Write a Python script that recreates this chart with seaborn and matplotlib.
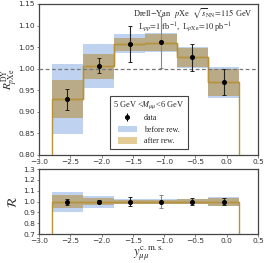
import numpy as np
import pandas as pd
import seaborn as sns
import matplotlib
matplotlib.use("Agg")
import matplotlib.pyplot as plt
from matplotlib.patches import Patch

# ---------------- data ----------------
bin_edges = [-2.8, -2.3, -1.8, -1.3, -0.8, -0.3, 0.2]
y_centers = [-2.55, -2.05, -1.55, -1.05, -0.55, -0.05]

data_R = [0.929, 1.007, 1.058, 1.061, 1.026, 0.970]
data_err = [0.024, 0.017, 0.042, 0.060, 0.032, 0.030]

before_lo = [0.848, 0.956, 1.036, 1.038, 1.002, 0.932]
before_hi = [1.010, 1.057, 1.080, 1.082, 1.050, 1.004]

after_lo = [0.885, 0.977, 1.040, 1.041, 1.004, 0.937]
after_hi = [0.973, 1.035, 1.072, 1.080, 1.047, 1.000]
after_central = [0.929, 1.007, 1.058, 1.060, 1.026, 0.970]

ratio_err = [0.028, 0.017, 0.040, 0.057, 0.031, 0.031]
ratio_before_half = [0.092, 0.055, 0.024, 0.022, 0.024, 0.040]
ratio_after_half = [0.058, 0.035, 0.019, 0.019, 0.021, 0.037]
ratio_central = [1.0, 1.0, 1.0, 1.0, 1.0, 1.0]

x_ticks = [-3.0, -2.5, -2.0, -1.5, -1.0, -0.5, 0.0, 0.5]
top_y_ticks = [0.80, 0.85, 0.90, 0.95, 1.00, 1.05, 1.10, 1.15]
bot_y_ticks = [0.7, 0.8, 0.9, 1.0, 1.1, 1.2, 1.3]

# ---------------- style ----------------
sns.set_theme(style="ticks")
plt.rcParams["font.family"] = ["DejaVu Sans"]
plt.rcParams["mathtext.fontset"] = "stix"
SERIF = ["Liberation Serif", "DejaVu Serif"]

BLUE = "#bfd3f0"
GOLD_BAND = "#b9ab88"
GOLD_LEG = "#e3cc98"
GOLD_LINE = "#b8923a"
SPINE = "#444444"

fig = plt.figure(figsize=(2.66, 2.63), dpi=100)
ax1 = fig.add_axes([0.147, 0.411, 0.823, 0.574])
ax2 = fig.add_axes([0.147, 0.110, 0.823, 0.247])

df = pd.DataFrame({"y": y_centers, "R": data_R, "err": data_err,
                   "blo": before_lo, "bhi": before_hi,
                   "alo": after_lo, "ahi": after_hi, "ac": after_central,
                   "rerr": ratio_err, "rb": ratio_before_half,
                   "ra": ratio_after_half, "rc": ratio_central})
widths = np.diff(bin_edges)


def draw_panel(ax, lo_b, hi_b, lo_a, hi_a, central, vals, errs, dashed):
    ax.bar(df["y"], hi_b - lo_b, bottom=lo_b, width=widths,
           color=BLUE, linewidth=0, zorder=1)
    ax.bar(df["y"], hi_a - lo_a, bottom=lo_a, width=widths,
           color=GOLD_BAND, linewidth=0, zorder=2)
    sns.histplot(x=df["y"], weights=central, bins=bin_edges, element="step",
                 fill=False, color=GOLD_LINE, linewidth=1.0, ax=ax, zorder=3)
    ax.stairs(central, bin_edges, baseline=0, color=GOLD_LINE, lw=1.0,
              zorder=3)
    if dashed:
        ax.axhline(1.0, color="#777777", ls=(0, (3, 2)), lw=0.9, zorder=4)
    for i in range(len(df)):
        ec = "#888888" if i == 3 else "#222222"
        ax.errorbar(df["y"][i], vals[i], yerr=errs[i], fmt="o",
                    color="black", ecolor=ec, ms=2.6, elinewidth=0.8,
                    capsize=1.6, capthick=0.7, zorder=5)


# ---- top panel ----
draw_panel(ax1, df["blo"], df["bhi"], df["alo"], df["ahi"], df["ac"],
           df["R"], df["err"], True)
ax1.set_xlim(-3.0, 0.5)
ax1.set_ylim(0.80, 1.15)
ax1.set_xticks(x_ticks)
ax1.set_yticks(top_y_ticks)
ax1.set_xticklabels([f"{t:.1f}".replace("-", "\u2212") for t in x_ticks])
ax1.set_yticklabels([f"{t:.2f}" for t in top_y_ticks])
ax1.set_xlabel("")
ax1.set_ylabel(r"$R^{\rm DY}_{p{\rm Xe}}$", fontsize=8)
ax1.yaxis.set_label_coords(-0.088, 0.5)

ax1.text(0.975, 0.936, r"Drell$-$Yan  $p$Xe  $\sqrt{s}_{\rm NN}\!=\!115$ GeV",
         transform=ax1.transAxes, ha="right", va="center", fontsize=6.0,
         family=SERIF)
ax1.text(0.452, 0.848, r"L$_{pp}\!=\!1$ fb$^{-1}$,  L$_{p{\rm Xe}}\!=\!10$ pb$^{-1}$",
         transform=ax1.transAxes, ha="left", va="center", fontsize=6.0,
         family=SERIF)

h_data = ax1.errorbar([], [], yerr=[], fmt="o", color="black", ms=2.6,
                      elinewidth=0.8, capsize=1.6)
h_before = Patch(facecolor=BLUE, edgecolor="none")
h_after = Patch(facecolor=GOLD_LEG, edgecolor="none")
leg = ax1.legend([h_data, h_before, h_after], ["data", "before rew.", "after rew."],
                 title=r"5 GeV <$M_{\mu\mu}$<6 GeV", loc="lower left",
                 bbox_to_anchor=(0.305, 0.015), frameon=True, fancybox=False,
                 framealpha=1, edgecolor=SPINE,
                 title_fontsize=6.0, handlelength=2.4, handleheight=0.9,
                 borderpad=0.4, labelspacing=0.42, handletextpad=0.9,
                 prop={"family": SERIF, "size": 5.8})
leg.get_title().set_family(SERIF)
leg.get_frame().set_linewidth(0.8)

# ---- bottom panel ----
draw_panel(ax2, df["rc"] - df["rb"], df["rc"] + df["rb"],
           df["rc"] - df["ra"], df["rc"] + df["ra"], df["rc"],
           df["rc"], df["rerr"], False)
ax2.set_xlim(-3.0, 0.5)
ax2.set_ylim(0.7, 1.3)
ax2.set_xticks(x_ticks)
ax2.set_yticks(bot_y_ticks)
ax2.set_xticklabels([f"{t:.1f}".replace("-", "\u2212") for t in x_ticks])
ax2.set_yticklabels([f"{t:.1f}" for t in bot_y_ticks])
ax2.set_ylabel(r"$\mathcal{R}$", fontsize=9)
ax2.yaxis.set_label_coords(-0.088, 0.5)
ax2.set_xlabel(r"$y^{\rm c.m.s.}_{\mu\mu}$", fontsize=9, labelpad=0)

for ax in (ax1, ax2):
    for s in ax.spines.values():
        s.set_visible(True)
        s.set_color(SPINE)
        s.set_linewidth(0.9)
    ax.tick_params(axis="both", labelsize=5.4, length=1.8, width=0.5,
                   colors="#555555", pad=1.2, labelcolor="#333333")

fig.savefig("out.png", dpi=100)
